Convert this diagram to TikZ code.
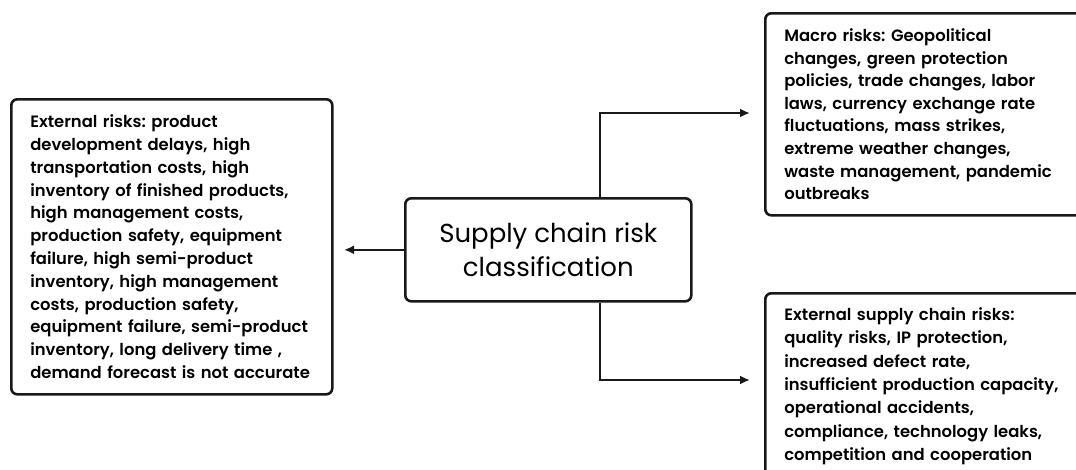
\documentclass[tikz,border=0pt]{standalone}
\usepackage{fontspec}
\setmainfont{Poppins}[BoldFont={Poppins SemiBold}]
\usetikzlibrary{arrows.meta}
\frenchspacing
\begin{document}
\begin{tikzpicture}[x=1pt,y=-1pt,
  box/.style={draw=black!90,line width=2.6pt,rounded corners=6pt,align=left,anchor=north west,inner xsep=19pt,inner ysep=0pt,font=\fontsize{16.4}{22.8}\selectfont\bfseries},
  conn/.style={draw=black!90,line width=2.6pt,-{Latex[length=10pt,width=9pt]}}]
\useasboundingbox (0,0) rectangle (1076,469);
\clip (0,0) rectangle (1076,469);
\node[box,minimum width=321pt,minimum height=295pt,text width=283pt] (ext) at (10,98) {External risks: product\\development delays, high\\transportation costs, high\\inventory of finished products,\\high management costs,\\production safety, equipment\\failure, high semi-product\\inventory, high management\\costs, production safety,\\equipment failure, semi-product\\inventory, long delivery time ,\\demand forecast is not accurate};
\node[draw=black!90,line width=2.6pt,rounded corners=6pt,minimum width=286pt,minimum height=103pt,anchor=north west,align=center,font=\fontsize{26}{34}\selectfont] (c) at (404,197) {Supply chain risk\\classification};
\node[box,minimum width=330pt,minimum height=202pt,text width=292pt,font=\fontsize{16.4}{22.6}\selectfont\bfseries] (mac) at (764,12) {Macro risks: Geopolitical\\changes, green protection\\policies, trade changes, labor\\laws, currency exchange rate\\fluctuations, mass strikes,\\extreme weather changes,\\waste management, pandemic\\outbreaks};
\node[box,minimum width=330pt,minimum height=186pt,text width=292pt,font=\fontsize{16.4}{23.4}\selectfont\bfseries] (sup) at (764,292) {External supply chain risks:\\quality risks, IP protection,\\increased defect rate,\\insufficient production capacity,\\operational accidents,\\compliance, technology leaks,\\competition and cooperation};
\coordinate (tl) at (750,113);
\coordinate (bl) at (750,380);
\coordinate (la) at (344,0);
\draw[conn] (c.west) -- (c.west -| la);
\draw[conn] (c.north -| 600,0) |- (tl);
\draw[conn] (c.south -| 600,0) |- (bl);
\end{tikzpicture}
\end{document}
